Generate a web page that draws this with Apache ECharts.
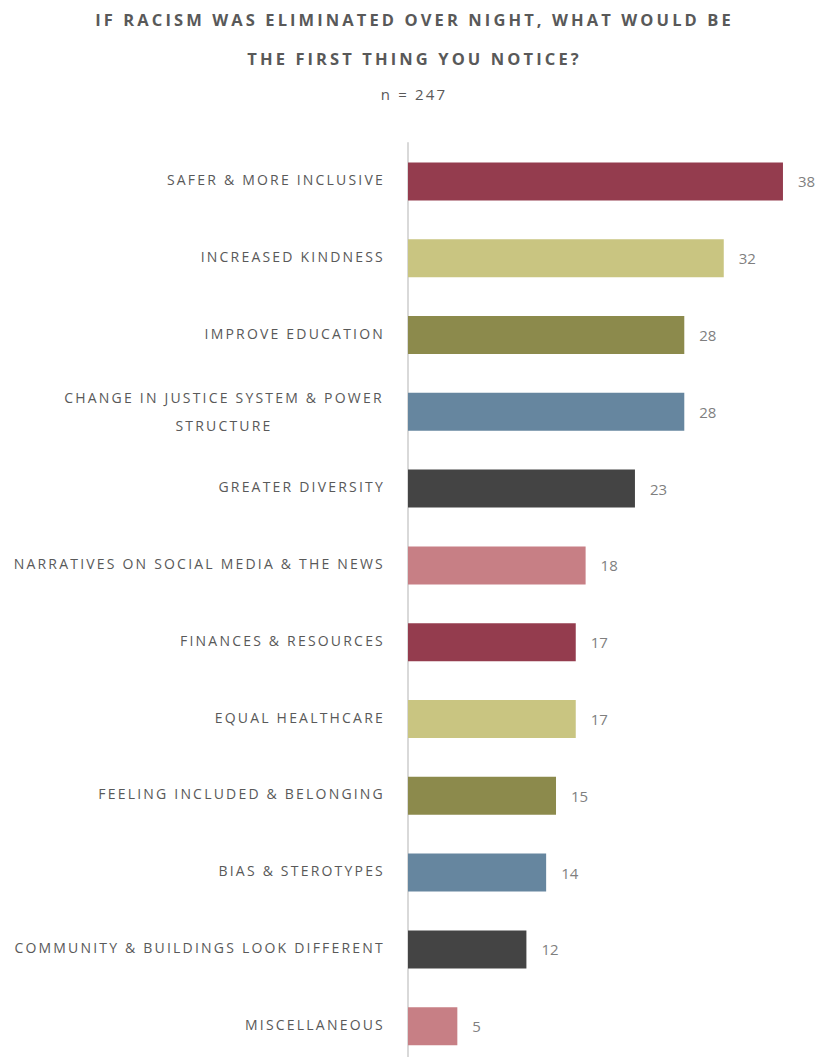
<!DOCTYPE html>
<html>
<head>
<meta charset="utf-8">
<script src="https://cdn.jsdelivr.net/npm/echarts@6/dist/echarts.min.js"></script>
<style>
  html, body { margin: 0; padding: 0; background: #fff; overflow: hidden; }
  #chart { width: 822px; height: 1075px; }
  #chart text[style*="lspLabel"] { letter-spacing: 2.2px; }
  #chart text[style*="lspTitle"] { letter-spacing: 3.1px; }
  #chart text[style*="lspSub"] { letter-spacing: 2.2px; }
</style>
</head>
<body>
<div id="chart"></div>
<script>
const titleLines = ['IF RACISM WAS ELIMINATED OVER NIGHT, WHAT WOULD BE', 'THE FIRST THING YOU NOTICE?'];
const subtitle = 'n = 247';
const categories = [
  'SAFER & MORE INCLUSIVE',
  'INCREASED KINDNESS',
  'IMPROVE EDUCATION',
  'CHANGE IN JUSTICE SYSTEM & POWER STRUCTURE',
  'GREATER DIVERSITY',
  'NARRATIVES ON SOCIAL MEDIA & THE NEWS',
  'FINANCES & RESOURCES',
  'EQUAL HEALTHCARE',
  'FEELING INCLUDED & BELONGING',
  'BIAS & STEROTYPES',
  'COMMUNITY & BUILDINGS LOOK DIFFERENT',
  'MISCELLANEOUS'
];
const values = [38, 32, 28, 28, 23, 18, 17, 17, 15, 14, 12, 5];
const barColors = ['#943C4E', '#C9C581', '#8C8A4C', '#66869F', '#444444', '#C77F85'];

const chart = echarts.init(document.getElementById('chart'), null, { renderer: 'svg' });
const labelFont = "'Open Sans', lspLabel";
chart.setOption({
  animation: false,
  backgroundColor: '#ffffff',
  title: [
    {
      text: titleLines.join('\n'),
      left: 409.5,
      textAlign: 'center',
      top: -5,
      textStyle: { fontFamily: "'Open Sans', lspTitle", fontSize: 16.5, fontWeight: 'bold', color: '#595959', lineHeight: 39 }
    },
    {
      text: subtitle,
      left: 409,
      textAlign: 'center',
      top: 79,
      textStyle: { fontFamily: "'Open Sans', lspSub", fontSize: 15, fontWeight: 'normal', color: '#595959', lineHeight: 20 }
    }
  ],
  grid: { left: 408, top: 143, width: 394.7, height: 921.6, containLabel: false },
  xAxis: {
    type: 'value', min: 0, max: 40, show: false,
    splitLine: { show: false }
  },
  yAxis: {
    type: 'category',
    inverse: true,
    data: categories.map((c, i) => c.indexOf('POWER STRUCTURE') >= 0
      ? { value: c, textStyle: { align: 'center', verticalAlign: 'middle', padding: [0, 322, 0, 0], lineHeight: 28 } }
      : c),
    axisLine: { show: true, lineStyle: { color: '#D9D9D9', width: 2 } },
    axisTick: { show: false },
    axisLabel: {
      margin: 23,
      color: '#595959',
      fontSize: 14,
      verticalAlign: 'bottom',
      lineHeight: 4,
      fontFamily: labelFont,
      formatter: v => v.replace(' POWER STRUCTURE', ' POWER\nSTRUCTURE')
    }
  },
  series: [{
    type: 'bar',
    data: values,
    barWidth: 38,
    itemStyle: { color: p => barColors[p.dataIndex % barColors.length] },
    label: {
      show: true, position: 'right', distance: 15,
      color: '#7F7F7F', fontSize: 15, fontFamily: "'Open Sans', sans-serif"
    }
  }]
});
</script>
</body>
</html>
